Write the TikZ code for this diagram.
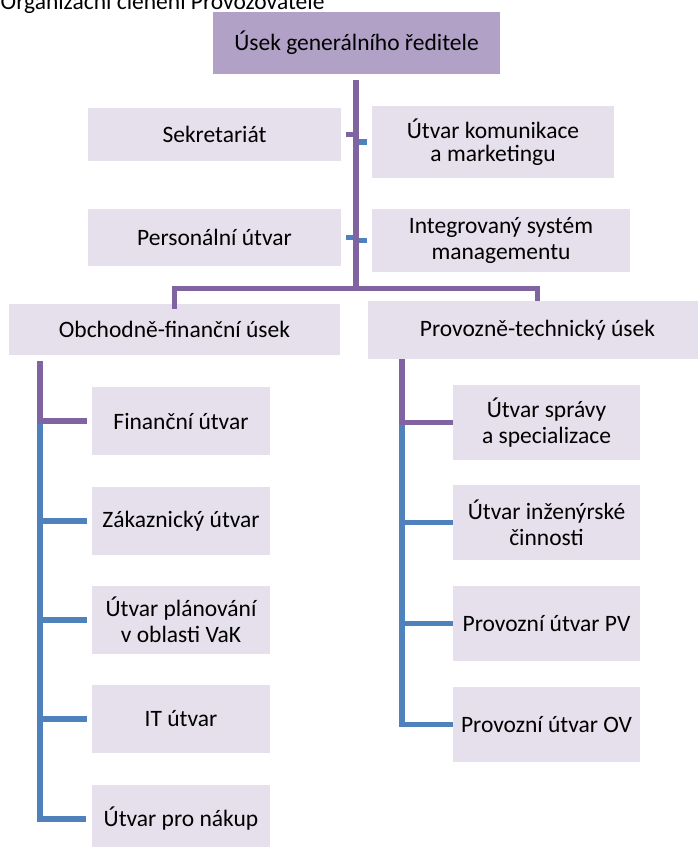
\documentclass[tikz,border=0pt]{standalone}
\usepackage{fontspec}
\setmainfont{Carlito}
\usetikzlibrary{calc}
\definecolor{headfill}{HTML}{B2A1C7}
\definecolor{unitfill}{HTML}{E5E0EC}
\definecolor{linkpurple}{HTML}{8064A2}
\definecolor{linkblue}{HTML}{4F81BD}
\tikzset{
  unit/.style={fill=unitfill, draw=none, inner sep=0pt, align=center,
    font=\fontsize{23.5}{26}\selectfont},
  headunit/.style={unit, fill=headfill},
  plink/.style={draw=linkpurple, line width=5.5pt},
  blink/.style={draw=linkblue, line width=5.5pt},
}
\begin{document}
\begin{tikzpicture}[x=1pt, y=-1pt]
\useasboundingbox (0,0) rectangle (697,847);

% caption above the chart
\node[anchor=base west, inner sep=0pt, font=\fontsize{23.5}{26}\selectfont] (title) at (0.5,9.5) {Organizační členění Provozovatele};

% general director's division and its staff units
\node[headunit, minimum width=287pt, minimum height=62pt] (gen) at (356.5,43) {Úsek generálního ředitele};
\node[unit, minimum width=253pt, minimum height=53pt] (sekr) at (214.5,134.5) {Sekretariát};
\node[unit, minimum width=242pt, minimum height=72pt, font=\fontsize{23.5}{23}\selectfont] (komu) at (493,142) {Útvar komunikace\\a marketingu};
\node[unit, minimum width=253pt, minimum height=57pt] (pers) at (214.5,237.5) {Personální útvar};
\node[unit, minimum width=258pt, minimum height=63pt] (ism) at (501,240.5) {Integrovaný systém\\managementu};

% the two main divisions
\node[unit, minimum width=331pt, minimum height=51pt] (ofu) at (174.5,329.5) {Obchodně-finanční úsek};
\node[unit, minimum width=339pt, minimum height=58pt] (ptu) at (537.5,330) {Provozně-technický úsek};

% units of the commercial and financial division
\node[unit, minimum width=178pt, minimum height=68pt] (fin) at (181,421) {Finanční útvar};
\node[unit, minimum width=178pt, minimum height=68pt] (zak) at (181,521) {Zákaznický útvar};
\node[unit, minimum width=178pt, minimum height=68pt] (plan) at (181,620) {Útvar plánování\\v oblasti VaK};
\node[unit, minimum width=178pt, minimum height=68pt] (it) at (181,719) {IT útvar};
\node[unit, minimum width=178pt, minimum height=68pt] (nak) at (181,819) {Útvar pro nákup};

% units of the operations and technical division
\node[unit, minimum width=187pt, minimum height=75pt] (spr) at (546.5,422.5) {Útvar správy\\a specializace};
\node[unit, minimum width=187pt, minimum height=75pt] (inz) at (546.5,522.5) {Útvar inženýrské\\činnosti};
\node[unit, minimum width=187pt, minimum height=75pt] (pv) at (546.5,623.5) {Provozní útvar PV};
\node[unit, minimum width=187pt, minimum height=75pt] (ov) at (546.5,724.5) {Provozní útvar OV};

% trunk below the general director
\coordinate (trunk) at (356,80);
\coordinate (hub) at (356,288.5);
\draw[plink] ([xshift=-10pt]sekr.east -| trunk) -- (sekr.east -| trunk);
\draw[blink] (komu.west -| trunk) -- ([xshift=-5pt]komu.west);
\draw[blink] ([xshift=-10pt]pers.east -| trunk) -- (pers.east -| trunk);
\draw[blink] (ism.west -| trunk) -- ([xshift=-5pt]ism.west);
\draw[plink] (trunk) -- (hub);
\draw[plink] ([yshift=-5pt]ofu.north) |- (hub) -| ([yshift=-0.5pt]ptu.north);

% left branch
\coordinate (lroot) at (40,361);
\draw[blink] (lroot) |- ([xshift=-6pt]nak.west);
\foreach \u in {zak,plan,it}
  \draw[blink] (lroot |- \u.west) -- ([xshift=-5pt]\u.west);
\draw[plink] (lroot) |- ([xshift=-5pt]fin.west);

% right branch
\coordinate (rroot) at (402,359);
\draw[blink] (rroot) |- (ov.west);
\foreach \u in {inz,pv}
  \draw[blink] (rroot |- \u.west) -- (\u.west);
\draw[plink] (rroot) |- (spr.west);
\end{tikzpicture}
\end{document}
